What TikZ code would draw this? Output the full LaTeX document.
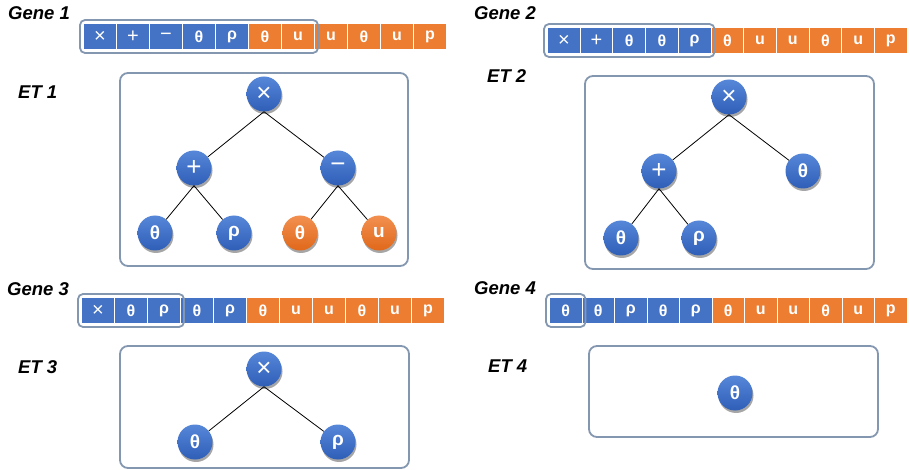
\documentclass[tikz,border=0pt]{standalone}
\usepackage{fontspec}
\setmainfont{Liberation Sans}
\usetikzlibrary{shadows,fit}
\definecolor{gblue}{HTML}{4472C4}
\definecolor{gorange}{HTML}{ED7D31}
\definecolor{framec}{HTML}{8497B0}
\definecolor{nbtop}{HTML}{5687D8}
\definecolor{nbbot}{HTML}{2F5EB8}
\definecolor{notop}{HTML}{F29050}
\definecolor{nobot}{HTML}{E0681A}
\tikzset{
 lbl/.style={anchor=west, inner sep=0pt, font=\fontsize{18.5}{20}\selectfont\bfseries\itshape},
 cell/.style={draw=white, line width=1pt, minimum height=26pt, inner sep=0pt, text=white, font=\fontsize{16}{18}\selectfont\bfseries, anchor=north west},
 bc/.style={cell, fill=gblue},
 oc/.style={cell, fill=gorange},
 bo/.style={bc, font=\fontsize{20}{22}\selectfont},
 hl/.style={draw=framec, line width=1.8pt, rounded corners=5pt, inner sep=3pt},
 etbox/.style={draw=framec, line width=1.8pt, rounded corners=8pt},
 tn/.style={circle, minimum size=35pt, inner sep=0pt, text=white, font=\fontsize{19}{21}\selectfont\bfseries, drop shadow={shadow xshift=1pt, shadow yshift=-2.5pt, opacity=0.35, fill=black}},
 bn/.style={tn, top color=nbtop, bottom color=nbbot},
 on/.style={tn, top color=notop, bottom color=nobot},
 opn/.style={bn, font=\fontsize{26}{28}\selectfont},
 link/.style={draw=black, line width=0.8pt},
}
\begin{document}
\begin{tikzpicture}[x=1pt,y=-1pt]
\useasboundingbox (0,0) rectangle (910,470);
% labels
\node[lbl] (lg1) at (8,13) {Gene 1};
\node[lbl] (lg2) at (474,13) {Gene 2};
\node[lbl] (lg3) at (7,289) {Gene 3};
\node[lbl] (lg4) at (474,288.5) {Gene 4};
\node[lbl] (le1) at (18,92) {ET 1};
\node[lbl] (le2) at (487,76.5) {ET 2};
\node[lbl] (le3) at (18,367.5) {ET 3};
\node[lbl] (le4) at (488,366.5) {ET 4};
% gene rows
\foreach [count=\i] \s/\c in {×/bo,+/bo,−/bo,θ/bc,ρ/bc,θ/oc,u/oc,u/oc,θ/oc,u/oc,p/oc}
  \node[\c, minimum width=33pt] (g1c\i) at ({83+(\i-1)*33},23) {\s};
\foreach [count=\i] \s/\c in {×/bo,+/bo,θ/bc,θ/bc,ρ/bc,θ/oc,u/oc,u/oc,θ/oc,u/oc,p/oc}
  \node[\c, minimum width=32.7pt] (g2c\i) at ({547+(\i-1)*32.7},27) {\s};
\foreach [count=\i] \s/\c in {×/bo,θ/bc,ρ/bc,θ/bc,ρ/bc,θ/oc,u/oc,u/oc,θ/oc,u/oc,p/oc}
  \node[\c, minimum width=33pt] (g3c\i) at ({81+(\i-1)*33},297) {\s};
\foreach [count=\i] \s/\c in {θ/bc,θ/bc,ρ/bc,θ/bc,ρ/bc,θ/oc,u/oc,u/oc,θ/oc,u/oc,p/oc}
  \node[\c, minimum width=32.5pt] (g4c\i) at ({549+(\i-1)*32.5},297) {\s};
% highlights
\node[hl, fit=(g1c1)(g1c7)] (h1) {};
\node[hl, fit=(g2c1)(g2c5)] (h2) {};
\node[hl, fit=(g3c1)(g3c3)] (h3) {};
\node[hl, fit=(g4c1)] (h4) {};
% ET boxes
\draw[etbox] (120,73) rectangle (408,266);
\draw[etbox] (585,76) rectangle (874,269);
\draw[etbox] (120,346) rectangle (409,468);
\draw[etbox] (589,346) rectangle (878,437);
% ET 1
\node[opn] (t1r) at (264,94) {×};
\node[opn] (t1a) at (194,168) {+};
\node[opn] (t1b) at (338,168) {−};
\node[bn] (t1c) at (155,233) {θ};
\node[bn] (t1d) at (234,233) {ρ};
\node[on] (t1e) at (300,233) {θ};
\node[on] (t1f) at (379,233) {u};
\draw[link] (t1r.south) -- (t1a);
\draw[link] (t1r.south) -- (t1b);
\draw[link] (t1a.south) -- (t1c);
\draw[link] (t1a.south) -- (t1d);
\draw[link] (t1b.south) -- (t1e);
\draw[link] (t1b.south) -- (t1f);
% ET 2
\node[opn] (t2r) at (729,97) {×};
\node[opn] (t2a) at (659,171) {+};
\node[bn] (t2b) at (803,171) {θ};
\node[bn] (t2c) at (621,238) {θ};
\node[bn] (t2d) at (699,238) {ρ};
\draw[link] (t2r.south) -- (t2a);
\draw[link] (t2r.south) -- (t2b);
\draw[link] (t2a.south) -- (t2c);
\draw[link] (t2a.south) -- (t2d);
% ET 3
\node[opn] (t3r) at (264,369) {×};
\node[bn] (t3a) at (195,442) {θ};
\node[bn] (t3b) at (338,442) {ρ};
\draw[link] (t3r.south) -- (t3a);
\draw[link] (t3r.south) -- (t3b);
% ET 4
\node[bn] (t4r) at (735,393) {θ};
\end{tikzpicture}
\end{document}
